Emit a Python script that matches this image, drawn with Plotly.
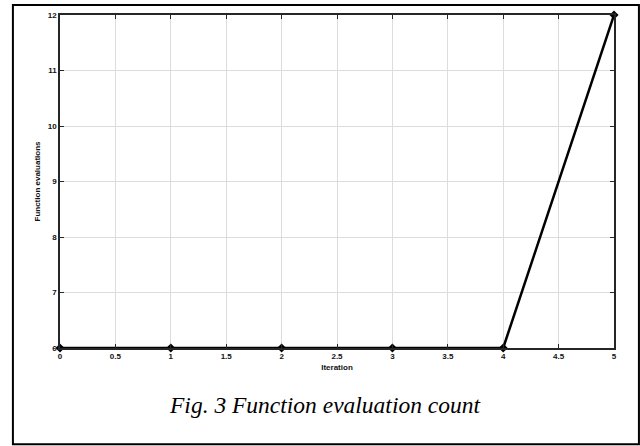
import plotly.graph_objects as go

iterations = [0, 1, 2, 3, 4, 5]
func_evals = [6, 6, 6, 6, 6, 12]
x_ticks = [0, 0.5, 1, 1.5, 2, 2.5, 3, 3.5, 4, 4.5, 5]
x_tick_labels = ["0", "0.5", "1", "1.5", "2", "2.5", "3", "3.5", "4", "4.5", "5"]
y_ticks = [6, 7, 8, 9, 10, 11, 12]
y_tick_labels = ["6", "7", "8", "9", "10", "11", "12"]

fig = go.Figure()
fig.add_trace(go.Scatter(
    x=iterations, y=func_evals, mode="lines+markers",
    line=dict(color="black", width=2.5),
    marker=dict(symbol="diamond", size=7, color="black"),
    showlegend=False, cliponaxis=False,
))

axis_common = dict(
    showline=True, linecolor="#262626", linewidth=1.5, mirror="ticks",
    ticks="inside", ticklen=4, tickwidth=1, tickcolor="#262626",
    showgrid=True, gridcolor="#dcdcdc", gridwidth=1, zeroline=False,
    tickfont=dict(family="Liberation Sans, Arial", size=8, color="#111"),
)

fig.update_layout(
    width=640, height=446,
    margin=dict(l=60, r=26, t=15, b=98),
    paper_bgcolor="white", plot_bgcolor="white",
    xaxis=dict(range=[0, 5], tickvals=x_ticks, ticktext=["<b>%s</b>" % t for t in x_tick_labels],
               title=dict(text="<b>Iteration</b>", font=dict(family="Liberation Sans, Arial", size=8, color="#111"), standoff=4),
               **axis_common),
    yaxis=dict(range=[6, 12], tickvals=y_ticks, ticktext=["<b>%s</b>" % t for t in y_tick_labels],
               title=dict(text="<b>Function evaluations</b>", font=dict(family="Liberation Sans, Arial", size=8, color="#111"), standoff=6),
               **axis_common),
    shapes=[dict(type="rect", xref="paper", yref="paper",
                 x0=-0.085, x1=1.045, y0=-0.289, y1=1.03,
                 line=dict(color="black", width=2), layer="below")],
    annotations=[dict(text="<i>Fig. 3 Function evaluation count</i>", xref="paper", yref="paper",
                      x=0.478, y=-0.171, showarrow=False, xanchor="center", yanchor="middle",
                      font=dict(family="Liberation Serif, Times New Roman", size=23.5, color="black"))],
)

fig.write_html("out.html")
